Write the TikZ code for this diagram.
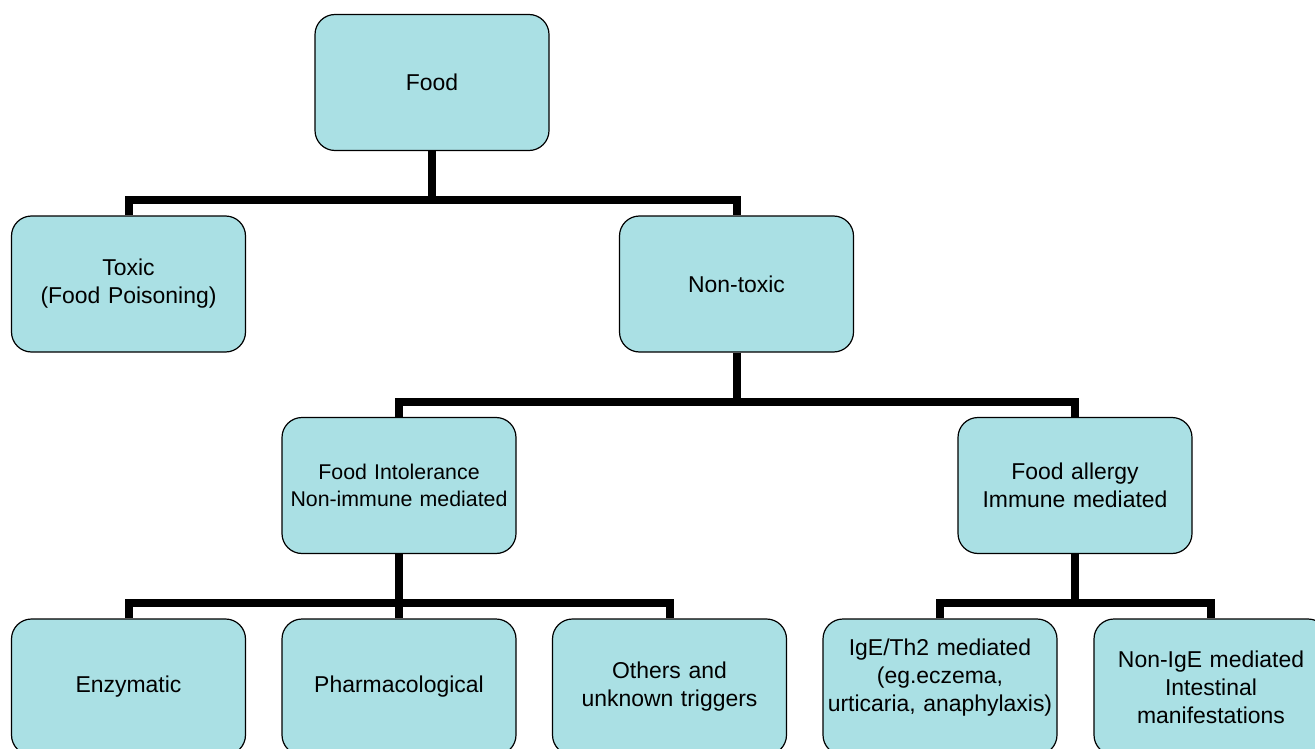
\documentclass[tikz,border=0pt]{standalone}
\usepackage{fontspec}
\setmainfont{Liberation Sans}
\definecolor{boxfill}{RGB}{170,224,228}
\begin{document}
\begin{tikzpicture}[x=0.75pt,y=-0.75pt,
  box/.style={draw=black, line width=0.9pt, fill=boxfill, rounded corners=15pt,
    minimum width=175.5pt, minimum height=102pt, inner sep=0pt,
    text width=172pt, align=center, font=\fontsize{17.2pt}{21pt}\selectfont},
  boxtext/.style={inner sep=0pt, text width=172pt, align=center, font=\fontsize{17.2pt}{21pt}\selectfont},
  smalltext/.style={font=\fontsize{16pt}{20pt}\selectfont},
  conn/.style={draw=black, line width=6pt, line join=miter}]
\useasboundingbox (0,0) rectangle (1315,749);
\clip (0,0) rectangle (1315,749);
% nodes
\node[box] (food) at (432,82.5) {Food};
\node[box] (toxic) at (128.5,284) {Toxic\\(Food Poisoning)};
\node[box] (nontoxic) at (736.5,284) {Non-toxic};
\node[box, smalltext] (intol) at (399,485.5) {Food Intolerance\\Non-immune mediated};
\node[box] (allergy) at (1075,485.5) {Food allergy\\Immune mediated};
\node[box] (enz) at (128.5,687) {Enzymatic};
\node[box] (pharm) at (399,687) {Pharmacological};
\node[box] (others) at (669.5,687) {Others and\\unknown triggers};
\node[box] (ige) at (940,687) {};
\node[boxtext] (igetext) at (940,678) {IgE/Th2 mediated\\(eg.eczema,\\urticaria, anaphylaxis)};
\node[box] (nonige) at (1211,687) {Non-IgE mediated\\Intestinal\\manifestations};
% junctions
\coordinate (j1) at (432,199.5);
\coordinate (j2) at (736.5,401.5);
\coordinate (j3) at (399,603);
\coordinate (j4) at (1075,603);
% connectors
\draw[conn] (food.south) -- (j1);
\draw[conn] (toxic.north) |- (j1) -| (nontoxic.north);
\draw[conn] (nontoxic.south) -- (j2);
\draw[conn] (intol.north) |- (j2) -| (allergy.north);
\draw[conn] (intol.south) -- (pharm.north);
\draw[conn] (enz.north) |- (j3) -| (others.north);
\draw[conn] (allergy.south) -- (j4);
\draw[conn] (ige.north) |- (j4) -| (nonige.north);
\end{tikzpicture}
\end{document}
